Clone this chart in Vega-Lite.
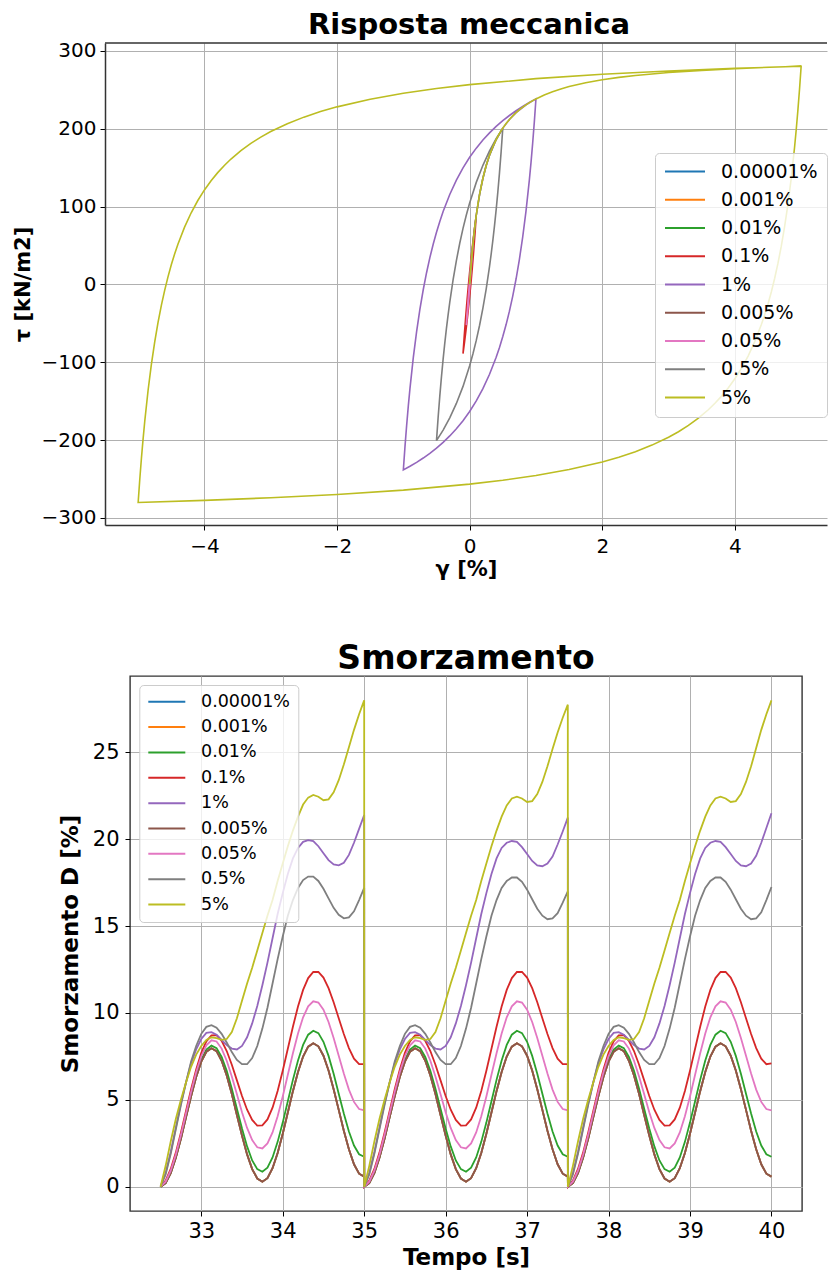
{
"$schema": "https://vega.github.io/schema/vega-lite/v6.json",
"background": "white",
"padding": {"left": 12, "top": 10, "right": 0, "bottom": 0},
"bounds": "flush",
"center": true,
"spacing": 151,
"resolve": {"scale": {"color": "independent"}},
"config": {
  "font": "DejaVu Sans",
  "axis": {"labelFont": "DejaVu Sans", "titleFont": "DejaVu Sans", "labelColor": "#000", "titleColor": "#000", "tickColor": "#000", "domainColor": "#333", "domainWidth": 1.5, "gridColor": "#b0b0b0", "gridWidth": 1, "titleFontWeight": "bold", "labelFlush": false, "labelOverlap": false},
  "legend": {"labelFont": "DejaVu Sans", "labelColor": "#000", "symbolType": "stroke", "fillColor": "rgba(255,255,255,0.8)", "strokeColor": "#cccccc", "cornerRadius": 4, "title": null, "orient": "none"},
  "title": {"font": "DejaVu Sans", "fontWeight": "bold", "color": "#000", "anchor": "middle"}
},
"datasets": {
  "names": [{"k":"A","s":"0.00001%"},{"k":"B","s":"0.001%"},{"k":"C","s":"0.01%"},{"k":"D","s":"0.1%"},{"k":"E","s":"1%"},{"k":"F","s":"0.005%"},{"k":"G","s":"0.05%"},{"k":"H","s":"0.5%"},{"k":"I","s":"5%"}],
  "loops": [
{"s":"0.00001%","g":0,"t":0},{"s":"0.00001%","g":0.00001,"t":0.0127},{"s":"0.00001%","g":-0.00001,"t":-0.0127},{"s":"0.00001%","g":0.00001,"t":0.0127},
{"s":"0.001%","g":0,"t":0},{"s":"0.001%","g":0.001,"t":1.27},{"s":"0.001%","g":-0.001,"t":-1.27},{"s":"0.001%","g":0.001,"t":1.27},
{"s":"0.01%","g":0,"t":0},{"s":"0.01%","g":0.005,"t":6.23},{"s":"0.01%","g":0.01,"t":12.21},{"s":"0.01%","g":0,"t":-0.25},{"s":"0.01%","g":-0.01,"t":-12.21},{"s":"0.01%","g":0,"t":0.25},{"s":"0.01%","g":0.01,"t":12.21},
{"s":"0.1%","g":0,"t":0},{"s":"0.1%","g":0.02,"t":23.4},{"s":"0.1%","g":0.04,"t":43.4},{"s":"0.1%","g":0.06,"t":60.6},{"s":"0.1%","g":0.08,"t":75.6},{"s":"0.1%","g":0.1,"t":88.8},
{"s":"0.1%","g":0.08,"t":64.4},{"s":"0.1%","g":0.06,"t":41.9},{"s":"0.1%","g":0.04,"t":21.2},{"s":"0.1%","g":0.02,"t":2.0},{"s":"0.1%","g":0,"t":-15.9},{"s":"0.1%","g":-0.02,"t":-32.5},{"s":"0.1%","g":-0.04,"t":-47.9},{"s":"0.1%","g":-0.06,"t":-62.4},{"s":"0.1%","g":-0.08,"t":-76.0},{"s":"0.1%","g":-0.1,"t":-88.8},
{"s":"0.1%","g":-0.08,"t":-64.4},{"s":"0.1%","g":-0.06,"t":-41.9},{"s":"0.1%","g":-0.04,"t":-21.2},{"s":"0.1%","g":-0.02,"t":-2.0},{"s":"0.1%","g":0,"t":15.9},{"s":"0.1%","g":0.02,"t":32.5},{"s":"0.1%","g":0.04,"t":47.9},{"s":"0.1%","g":0.06,"t":62.4},{"s":"0.1%","g":0.08,"t":76.0},{"s":"0.1%","g":0.1,"t":88.8},
{"s":"1%","g":0,"t":0},{"s":"1%","g":0.0125,"t":15.1},{"s":"1%","g":0.025,"t":28.7},{"s":"1%","g":0.05,"t":52.3},{"s":"1%","g":0.075,"t":72.1},{"s":"1%","g":0.1,"t":88.8},{"s":"1%","g":0.15,"t":115.7},{"s":"1%","g":0.2,"t":136.3},{"s":"1%","g":0.25,"t":152.6},{"s":"1%","g":0.3,"t":165.9},{"s":"1%","g":0.4,"t":186.0},{"s":"1%","g":0.5,"t":200.7},{"s":"1%","g":0.6,"t":211.8},{"s":"1%","g":0.7,"t":220.5},{"s":"1%","g":0.85,"t":230.6},{"s":"1%","g":1,"t":238.2},
{"s":"1%","g":0.975,"t":208.0},{"s":"1%","g":0.95,"t":180.8},{"s":"1%","g":0.925,"t":156.1},{"s":"1%","g":0.9,"t":133.6},{"s":"1%","g":0.85,"t":94.1},{"s":"1%","g":0.8,"t":60.6},{"s":"1%","g":0.75,"t":31.9},{"s":"1%","g":0.7,"t":6.9},{"s":"1%","g":0.65,"t":-15.0},{"s":"1%","g":0.6,"t":-34.4},{"s":"1%","g":0.55,"t":-51.6},{"s":"1%","g":0.5,"t":-67.0},{"s":"1%","g":0.45,"t":-80.9},{"s":"1%","g":0.4,"t":-93.5},{"s":"1%","g":0.3,"t":-115.4},{"s":"1%","g":0.2,"t":-133.9},{"s":"1%","g":0.1,"t":-149.6},{"s":"1%","g":0,"t":-163.2},{"s":"1%","g":-0.1,"t":-175.0},{"s":"1%","g":-0.2,"t":-185.4},{"s":"1%","g":-0.3,"t":-194.6},{"s":"1%","g":-0.4,"t":-202.9},{"s":"1%","g":-0.5,"t":-210.3},{"s":"1%","g":-0.6,"t":-216.9},{"s":"1%","g":-0.7,"t":-223.0},{"s":"1%","g":-0.8,"t":-228.5},{"s":"1%","g":-0.9,"t":-233.6},{"s":"1%","g":-1,"t":-238.2},
{"s":"1%","g":-0.975,"t":-208.0},{"s":"1%","g":-0.95,"t":-180.8},{"s":"1%","g":-0.925,"t":-156.1},{"s":"1%","g":-0.9,"t":-133.6},{"s":"1%","g":-0.85,"t":-94.1},{"s":"1%","g":-0.8,"t":-60.6},{"s":"1%","g":-0.75,"t":-31.9},{"s":"1%","g":-0.7,"t":-6.9},{"s":"1%","g":-0.65,"t":15.0},{"s":"1%","g":-0.6,"t":34.4},{"s":"1%","g":-0.55,"t":51.6},{"s":"1%","g":-0.5,"t":67.0},{"s":"1%","g":-0.45,"t":80.9},{"s":"1%","g":-0.4,"t":93.5},{"s":"1%","g":-0.3,"t":115.4},{"s":"1%","g":-0.2,"t":133.9},{"s":"1%","g":-0.1,"t":149.6},{"s":"1%","g":0,"t":163.2},{"s":"1%","g":0.1,"t":175.0},{"s":"1%","g":0.2,"t":185.4},{"s":"1%","g":0.3,"t":194.6},{"s":"1%","g":0.4,"t":202.9},{"s":"1%","g":0.5,"t":210.3},{"s":"1%","g":0.6,"t":216.9},{"s":"1%","g":0.7,"t":223.0},{"s":"1%","g":0.8,"t":228.5},{"s":"1%","g":0.9,"t":233.6},{"s":"1%","g":1,"t":238.2},
{"s":"0.005%","g":0,"t":0},{"s":"0.005%","g":0.0025,"t":3.15},{"s":"0.005%","g":0.005,"t":6.23},{"s":"0.005%","g":0,"t":-0.07},{"s":"0.005%","g":-0.005,"t":-6.23},{"s":"0.005%","g":0,"t":0.07},{"s":"0.005%","g":0.005,"t":6.23},
{"s":"0.05%","g":0,"t":0},{"s":"0.05%","g":0.0125,"t":15.1},{"s":"0.05%","g":0.025,"t":28.7},{"s":"0.05%","g":0.0375,"t":41.1},{"s":"0.05%","g":0.05,"t":52.3},{"s":"0.05%","g":0.025,"t":22.1},{"s":"0.05%","g":0,"t":-5.1},{"s":"0.05%","g":-0.025,"t":-29.8},{"s":"0.05%","g":-0.05,"t":-52.3},{"s":"0.05%","g":-0.025,"t":-22.1},{"s":"0.05%","g":0,"t":5.1},{"s":"0.05%","g":0.025,"t":29.8},{"s":"0.05%","g":0.05,"t":52.3},
{"s":"0.5%","g":0,"t":0},{"s":"0.5%","g":0.0125,"t":15.1},{"s":"0.5%","g":0.025,"t":28.7},{"s":"0.5%","g":0.05,"t":52.3},{"s":"0.5%","g":0.075,"t":72.1},{"s":"0.5%","g":0.1,"t":88.8},{"s":"0.5%","g":0.15,"t":115.7},{"s":"0.5%","g":0.2,"t":136.3},{"s":"0.5%","g":0.25,"t":152.6},{"s":"0.5%","g":0.3,"t":165.9},{"s":"0.5%","g":0.4,"t":186.0},{"s":"0.5%","g":0.5,"t":200.7},
{"s":"0.5%","g":0.475,"t":170.5},{"s":"0.5%","g":0.45,"t":143.2},{"s":"0.5%","g":0.425,"t":118.5},{"s":"0.5%","g":0.4,"t":96.0},{"s":"0.5%","g":0.375,"t":75.5},{"s":"0.5%","g":0.35,"t":56.6},{"s":"0.5%","g":0.325,"t":39.2},{"s":"0.5%","g":0.3,"t":23.1},{"s":"0.5%","g":0.25,"t":-5.7},{"s":"0.5%","g":0.2,"t":-30.6},{"s":"0.5%","g":0.15,"t":-52.5},{"s":"0.5%","g":0.1,"t":-71.9},{"s":"0.5%","g":0.05,"t":-89.1},{"s":"0.5%","g":0,"t":-104.5},{"s":"0.5%","g":-0.1,"t":-131.0},{"s":"0.5%","g":-0.2,"t":-152.9},{"s":"0.5%","g":-0.3,"t":-171.4},{"s":"0.5%","g":-0.4,"t":-187.1},{"s":"0.5%","g":-0.5,"t":-200.7},
{"s":"0.5%","g":-0.475,"t":-170.5},{"s":"0.5%","g":-0.45,"t":-143.2},{"s":"0.5%","g":-0.425,"t":-118.5},{"s":"0.5%","g":-0.4,"t":-96.0},{"s":"0.5%","g":-0.375,"t":-75.5},{"s":"0.5%","g":-0.35,"t":-56.6},{"s":"0.5%","g":-0.325,"t":-39.2},{"s":"0.5%","g":-0.3,"t":-23.1},{"s":"0.5%","g":-0.25,"t":5.7},{"s":"0.5%","g":-0.2,"t":30.6},{"s":"0.5%","g":-0.15,"t":52.5},{"s":"0.5%","g":-0.1,"t":71.9},{"s":"0.5%","g":-0.05,"t":89.1},{"s":"0.5%","g":0,"t":104.5},{"s":"0.5%","g":0.1,"t":131.0},{"s":"0.5%","g":0.2,"t":152.9},{"s":"0.5%","g":0.3,"t":171.4},{"s":"0.5%","g":0.4,"t":187.1},{"s":"0.5%","g":0.5,"t":200.7},
{"s":"5%","g":0,"t":0},{"s":"5%","g":0.0125,"t":15.1},{"s":"5%","g":0.025,"t":28.7},{"s":"5%","g":0.0375,"t":41.1},{"s":"5%","g":0.05,"t":52.3},{"s":"5%","g":0.075,"t":72.1},{"s":"5%","g":0.1,"t":88.8},{"s":"5%","g":0.125,"t":103.2},{"s":"5%","g":0.15,"t":115.7},{"s":"5%","g":0.175,"t":126.6},{"s":"5%","g":0.2,"t":136.3},{"s":"5%","g":0.225,"t":144.9},{"s":"5%","g":0.25,"t":152.6},{"s":"5%","g":0.275,"t":159.6},{"s":"5%","g":0.3,"t":165.9},{"s":"5%","g":0.35,"t":176.8},{"s":"5%","g":0.4,"t":186.0},{"s":"5%","g":0.45,"t":193.9},{"s":"5%","g":0.5,"t":200.7},{"s":"5%","g":0.55,"t":206.6},{"s":"5%","g":0.6,"t":211.8},{"s":"5%","g":0.65,"t":216.4},{"s":"5%","g":0.7,"t":220.5},{"s":"5%","g":0.775,"t":226.0},{"s":"5%","g":0.85,"t":230.6},{"s":"5%","g":0.925,"t":234.7},{"s":"5%","g":1,"t":238.2},{"s":"5%","g":1.125,"t":243.3},{"s":"5%","g":1.25,"t":247.5},{"s":"5%","g":1.375,"t":251.0},{"s":"5%","g":1.5,"t":254.1},{"s":"5%","g":1.75,"t":259.0},{"s":"5%","g":2,"t":262.8},{"s":"5%","g":2.25,"t":265.8},{"s":"5%","g":2.5,"t":268.3},{"s":"5%","g":3,"t":272.1},{"s":"5%","g":3.5,"t":274.9},{"s":"5%","g":4,"t":277.1},{"s":"5%","g":4.5,"t":278.8},{"s":"5%","g":5,"t":280.1},
{"s":"5%","g":4.975,"t":249.9},{"s":"5%","g":4.95,"t":222.7},{"s":"5%","g":4.925,"t":198.0},{"s":"5%","g":4.9,"t":175.5},{"s":"5%","g":4.85,"t":136.0},{"s":"5%","g":4.8,"t":102.5},{"s":"5%","g":4.75,"t":73.8},{"s":"5%","g":4.7,"t":48.8},{"s":"5%","g":4.65,"t":26.9},{"s":"5%","g":4.6,"t":7.6},{"s":"5%","g":4.55,"t":-9.7},{"s":"5%","g":4.5,"t":-25.1},{"s":"5%","g":4.45,"t":-39.0},{"s":"5%","g":4.4,"t":-51.6},{"s":"5%","g":4.3,"t":-73.5},{"s":"5%","g":4.2,"t":-92.0},{"s":"5%","g":4.1,"t":-107.7},{"s":"5%","g":4.0,"t":-121.3},{"s":"5%","g":3.9,"t":-133.1},{"s":"5%","g":3.8,"t":-143.5},{"s":"5%","g":3.7,"t":-152.7},{"s":"5%","g":3.6,"t":-161.0},{"s":"5%","g":3.45,"t":-171.8},{"s":"5%","g":3.3,"t":-181.1},{"s":"5%","g":3.15,"t":-189.2},{"s":"5%","g":3.0,"t":-196.3},{"s":"5%","g":2.75,"t":-206.4},{"s":"5%","g":2.5,"t":-214.8},{"s":"5%","g":2.25,"t":-221.9},{"s":"5%","g":2.0,"t":-228.0},{"s":"5%","g":1.5,"t":-237.8},{"s":"5%","g":1.0,"t":-245.5},{"s":"5%","g":0.5,"t":-251.6},{"s":"5%","g":0,"t":-256.5},{"s":"5%","g":-1,"t":-264.2},{"s":"5%","g":-2,"t":-269.8},{"s":"5%","g":-3,"t":-274.0},{"s":"5%","g":-4,"t":-277.4},{"s":"5%","g":-5,"t":-280.1},
{"s":"5%","g":-4.975,"t":-249.9},{"s":"5%","g":-4.95,"t":-222.7},{"s":"5%","g":-4.925,"t":-198.0},{"s":"5%","g":-4.9,"t":-175.5},{"s":"5%","g":-4.85,"t":-136.0},{"s":"5%","g":-4.8,"t":-102.5},{"s":"5%","g":-4.75,"t":-73.8},{"s":"5%","g":-4.7,"t":-48.8},{"s":"5%","g":-4.65,"t":-26.9},{"s":"5%","g":-4.6,"t":-7.6},{"s":"5%","g":-4.55,"t":9.7},{"s":"5%","g":-4.5,"t":25.1},{"s":"5%","g":-4.45,"t":39.0},{"s":"5%","g":-4.4,"t":51.6},{"s":"5%","g":-4.3,"t":73.5},{"s":"5%","g":-4.2,"t":92.0},{"s":"5%","g":-4.1,"t":107.7},{"s":"5%","g":-4.0,"t":121.3},{"s":"5%","g":-3.9,"t":133.1},{"s":"5%","g":-3.8,"t":143.5},{"s":"5%","g":-3.7,"t":152.7},{"s":"5%","g":-3.6,"t":161.0},{"s":"5%","g":-3.45,"t":171.8},{"s":"5%","g":-3.3,"t":181.1},{"s":"5%","g":-3.15,"t":189.2},{"s":"5%","g":-3.0,"t":196.3},{"s":"5%","g":-2.75,"t":206.4},{"s":"5%","g":-2.5,"t":214.8},{"s":"5%","g":-2.25,"t":221.9},{"s":"5%","g":-2.0,"t":228.0},{"s":"5%","g":-1.5,"t":237.8},{"s":"5%","g":-1,"t":245.5},{"s":"5%","g":-0.5,"t":251.6},{"s":"5%","g":0,"t":256.5},{"s":"5%","g":1,"t":264.2},{"s":"5%","g":2,"t":269.8},{"s":"5%","g":3,"t":274.0},{"s":"5%","g":4,"t":277.4},{"s":"5%","g":5,"t":280.1}
  ],
  "damp": [
{"t":32.5,"A":0,"B":0,"C":0,"D":0,"E":0,"F":0,"G":0,"H":0,"I":0},
{"t":32.5625,"A":0.21,"B":0.21,"C":0.23,"D":0.35,"E":0.8,"F":0.21,"G":0.29,"H":0.7,"I":1.2},
{"t":32.625,"A":0.78,"B":0.78,"C":0.82,"D":1.02,"E":2.0,"F":0.78,"G":0.92,"H":1.9,"I":2.6},
{"t":32.6875,"A":1.66,"B":1.66,"C":1.71,"D":1.96,"E":3.4,"F":1.66,"G":1.84,"H":3.3,"I":3.9},
{"t":32.75,"A":2.76,"B":2.76,"C":2.83,"D":3.11,"E":4.8,"F":2.76,"G":2.97,"H":4.7,"I":5.0},
{"t":32.8125,"A":3.99,"B":3.99,"C":4.06,"D":4.36,"E":6.0,"F":3.99,"G":4.22,"H":6.0,"I":6.0},
{"t":32.875,"A":5.21,"B":5.21,"C":5.29,"D":5.61,"E":7.1,"F":5.21,"G":5.46,"H":7.2,"I":6.9},
{"t":32.9375,"A":6.32,"B":6.32,"C":6.41,"D":6.75,"E":7.9,"F":6.32,"G":6.59,"H":8.1,"I":7.6},
{"t":33.0,"A":7.2,"B":7.2,"C":7.3,"D":7.7,"E":8.5,"F":7.2,"G":7.51,"H":8.8,"I":8.1},
{"t":33.0625,"A":7.77,"B":7.77,"C":7.89,"D":8.37,"E":8.85,"F":7.77,"G":8.14,"H":9.2,"I":8.45},
{"t":33.125,"A":7.97,"B":7.97,"C":8.12,"D":8.71,"E":8.9,"F":7.97,"G":8.43,"H":9.3,"I":8.6},
{"t":33.1875,"A":7.8,"B":7.8,"C":7.98,"D":8.72,"E":8.75,"F":7.8,"G":8.36,"H":9.15,"I":8.55},
{"t":33.25,"A":7.25,"B":7.25,"C":7.47,"D":8.4,"E":8.45,"F":7.25,"G":7.95,"H":8.8,"I":8.45},
{"t":33.3125,"A":6.4,"B":6.4,"C":6.67,"D":7.81,"E":8.15,"F":6.4,"G":7.25,"H":8.3,"I":8.5},
{"t":33.375,"A":5.33,"B":5.33,"C":5.64,"D":7.02,"E":7.95,"F":5.33,"G":6.34,"H":7.75,"I":8.9},
{"t":33.4375,"A":4.13,"B":4.13,"C":4.49,"D":6.12,"E":7.9,"F":4.13,"G":5.32,"H":7.3,"I":9.7},
{"t":33.5,"A":2.94,"B":2.94,"C":3.35,"D":5.22,"E":8.1,"F":2.94,"G":4.29,"H":7.05,"I":10.7},
{"t":33.5625,"A":1.86,"B":1.86,"C":2.32,"D":4.43,"E":8.6,"F":1.86,"G":3.38,"H":7.05,"I":11.7},
{"t":33.625,"A":1.01,"B":1.01,"C":1.51,"D":3.84,"E":9.4,"F":1.01,"G":2.68,"H":7.4,"I":12.6},
{"t":33.6875,"A":0.47,"B":0.47,"C":1.01,"D":3.52,"E":10.4,"F":0.47,"G":2.27,"H":8.1,"I":13.6},
{"t":33.75,"A":0.29,"B":0.29,"C":0.86,"D":3.53,"E":11.6,"F":0.29,"G":2.2,"H":9.1,"I":14.6},
{"t":33.8125,"A":0.49,"B":0.49,"C":1.09,"D":3.87,"E":12.9,"F":0.49,"G":2.49,"H":10.3,"I":15.6},
{"t":33.875,"A":1.06,"B":1.06,"C":1.68,"D":4.55,"E":14.3,"F":1.06,"G":3.12,"H":11.7,"I":16.5},
{"t":33.9375,"A":1.94,"B":1.94,"C":2.58,"D":5.51,"E":15.7,"F":1.94,"G":4.05,"H":13.1,"I":17.6},
{"t":34.0,"A":3.05,"B":3.05,"C":3.69,"D":6.67,"E":16.9,"F":3.05,"G":5.19,"H":14.4,"I":18.6},
{"t":34.0625,"A":4.27,"B":4.27,"C":4.92,"D":7.94,"E":18.0,"F":4.27,"G":6.44,"H":15.6,"I":19.6},
{"t":34.125,"A":5.5,"B":5.5,"C":6.15,"D":9.21,"E":18.9,"F":5.5,"G":7.68,"H":16.5,"I":20.5},
{"t":34.1875,"A":6.6,"B":6.6,"C":7.27,"D":10.37,"E":19.5,"F":6.6,"G":8.82,"H":17.2,"I":21.3},
{"t":34.25,"A":7.49,"B":7.49,"C":8.16,"D":11.33,"E":19.85,"F":7.49,"G":9.75,"H":17.65,"I":22.0},
{"t":34.3125,"A":8.06,"B":8.06,"C":8.75,"D":12.01,"E":19.95,"F":8.06,"G":10.38,"H":17.85,"I":22.4},
{"t":34.375,"A":8.26,"B":8.26,"C":8.98,"D":12.36,"E":19.9,"F":8.26,"G":10.67,"H":17.85,"I":22.55},
{"t":34.4375,"A":8.08,"B":8.08,"C":8.84,"D":12.36,"E":19.6,"F":8.08,"G":10.6,"H":17.6,"I":22.45},
{"t":34.5,"A":7.54,"B":7.54,"C":8.34,"D":12.04,"E":19.2,"F":7.54,"G":10.19,"H":17.15,"I":22.25},
{"t":34.5625,"A":6.69,"B":6.69,"C":7.53,"D":11.43,"E":18.8,"F":6.69,"G":9.48,"H":16.6,"I":22.3},
{"t":34.625,"A":5.61,"B":5.61,"C":6.5,"D":10.62,"E":18.55,"F":5.61,"G":8.56,"H":16.05,"I":22.7},
{"t":34.6875,"A":4.42,"B":4.42,"C":5.35,"D":9.7,"E":18.5,"F":4.42,"G":7.54,"H":15.65,"I":23.4},
{"t":34.75,"A":3.22,"B":3.22,"C":4.21,"D":8.79,"E":18.65,"F":3.22,"G":6.51,"H":15.45,"I":24.3},
{"t":34.8125,"A":2.15,"B":2.15,"C":3.18,"D":7.98,"E":19.1,"F":2.15,"G":5.59,"H":15.5,"I":25.3},
{"t":34.875,"A":1.29,"B":1.29,"C":2.37,"D":7.37,"E":19.8,"F":1.29,"G":4.88,"H":15.85,"I":26.3},
{"t":34.9375,"A":0.75,"B":0.75,"C":1.87,"D":7.05,"E":20.6,"F":0.75,"G":4.47,"H":16.5,"I":27.2},
{"t":35.0,"A":0.58,"B":0.58,"C":1.72,"D":7.05,"E":21.4,"F":0.58,"G":4.4,"H":17.2,"I":28.0},
{"t":35.001,"A":0,"B":0,"C":0,"D":0,"E":0,"F":0,"G":0,"H":0,"I":0},
{"t":35.0625,"A":0.21,"B":0.21,"C":0.23,"D":0.35,"E":0.8,"F":0.21,"G":0.29,"H":0.7,"I":1.2},
{"t":35.125,"A":0.78,"B":0.78,"C":0.82,"D":1.02,"E":2.0,"F":0.78,"G":0.92,"H":1.9,"I":2.6},
{"t":35.1875,"A":1.66,"B":1.66,"C":1.71,"D":1.96,"E":3.4,"F":1.66,"G":1.84,"H":3.3,"I":3.9},
{"t":35.25,"A":2.76,"B":2.76,"C":2.83,"D":3.11,"E":4.8,"F":2.76,"G":2.97,"H":4.7,"I":5.0},
{"t":35.3125,"A":3.99,"B":3.99,"C":4.06,"D":4.36,"E":6.0,"F":3.99,"G":4.22,"H":6.0,"I":6.0},
{"t":35.375,"A":5.21,"B":5.21,"C":5.29,"D":5.61,"E":7.1,"F":5.21,"G":5.46,"H":7.2,"I":6.9},
{"t":35.4375,"A":6.32,"B":6.32,"C":6.41,"D":6.75,"E":7.9,"F":6.32,"G":6.59,"H":8.1,"I":7.6},
{"t":35.5,"A":7.2,"B":7.2,"C":7.3,"D":7.7,"E":8.5,"F":7.2,"G":7.51,"H":8.8,"I":8.1},
{"t":35.5625,"A":7.77,"B":7.77,"C":7.89,"D":8.37,"E":8.85,"F":7.77,"G":8.14,"H":9.2,"I":8.45},
{"t":35.625,"A":7.97,"B":7.97,"C":8.12,"D":8.71,"E":8.9,"F":7.97,"G":8.43,"H":9.3,"I":8.6},
{"t":35.6875,"A":7.8,"B":7.8,"C":7.98,"D":8.72,"E":8.75,"F":7.8,"G":8.36,"H":9.15,"I":8.55},
{"t":35.75,"A":7.25,"B":7.25,"C":7.47,"D":8.4,"E":8.45,"F":7.25,"G":7.95,"H":8.8,"I":8.45},
{"t":35.8125,"A":6.4,"B":6.4,"C":6.67,"D":7.81,"E":8.15,"F":6.4,"G":7.25,"H":8.3,"I":8.5},
{"t":35.875,"A":5.33,"B":5.33,"C":5.64,"D":7.02,"E":7.95,"F":5.33,"G":6.34,"H":7.75,"I":8.9},
{"t":35.9375,"A":4.13,"B":4.13,"C":4.49,"D":6.12,"E":7.9,"F":4.13,"G":5.32,"H":7.3,"I":9.7},
{"t":36.0,"A":2.94,"B":2.94,"C":3.35,"D":5.22,"E":8.1,"F":2.94,"G":4.29,"H":7.05,"I":10.7},
{"t":36.0625,"A":1.86,"B":1.86,"C":2.32,"D":4.43,"E":8.6,"F":1.86,"G":3.38,"H":7.05,"I":11.7},
{"t":36.125,"A":1.01,"B":1.01,"C":1.51,"D":3.84,"E":9.4,"F":1.01,"G":2.68,"H":7.4,"I":12.6},
{"t":36.1875,"A":0.47,"B":0.47,"C":1.01,"D":3.52,"E":10.4,"F":0.47,"G":2.27,"H":8.1,"I":13.6},
{"t":36.25,"A":0.29,"B":0.29,"C":0.86,"D":3.53,"E":11.6,"F":0.29,"G":2.2,"H":9.1,"I":14.6},
{"t":36.3125,"A":0.49,"B":0.49,"C":1.09,"D":3.87,"E":12.9,"F":0.49,"G":2.49,"H":10.3,"I":15.6},
{"t":36.375,"A":1.06,"B":1.06,"C":1.68,"D":4.55,"E":14.3,"F":1.06,"G":3.12,"H":11.7,"I":16.5},
{"t":36.4375,"A":1.94,"B":1.94,"C":2.58,"D":5.51,"E":15.7,"F":1.94,"G":4.05,"H":13.1,"I":17.6},
{"t":36.5,"A":3.05,"B":3.05,"C":3.69,"D":6.67,"E":16.9,"F":3.05,"G":5.19,"H":14.4,"I":18.6},
{"t":36.5625,"A":4.27,"B":4.27,"C":4.92,"D":7.94,"E":18.0,"F":4.27,"G":6.44,"H":15.6,"I":19.6},
{"t":36.625,"A":5.5,"B":5.5,"C":6.15,"D":9.21,"E":18.9,"F":5.5,"G":7.68,"H":16.5,"I":20.5},
{"t":36.6875,"A":6.6,"B":6.6,"C":7.27,"D":10.37,"E":19.5,"F":6.6,"G":8.82,"H":17.2,"I":21.3},
{"t":36.75,"A":7.49,"B":7.49,"C":8.16,"D":11.33,"E":19.8,"F":7.49,"G":9.75,"H":17.6,"I":21.95},
{"t":36.8125,"A":8.06,"B":8.06,"C":8.75,"D":12.01,"E":19.9,"F":8.06,"G":10.38,"H":17.8,"I":22.35},
{"t":36.875,"A":8.26,"B":8.26,"C":8.98,"D":12.36,"E":19.85,"F":8.26,"G":10.67,"H":17.8,"I":22.45},
{"t":36.9375,"A":8.08,"B":8.08,"C":8.84,"D":12.36,"E":19.55,"F":8.08,"G":10.6,"H":17.55,"I":22.35},
{"t":37.0,"A":7.54,"B":7.54,"C":8.34,"D":12.04,"E":19.15,"F":7.54,"G":10.19,"H":17.1,"I":22.15},
{"t":37.0625,"A":6.69,"B":6.69,"C":7.53,"D":11.43,"E":18.75,"F":6.69,"G":9.48,"H":16.55,"I":22.2},
{"t":37.125,"A":5.61,"B":5.61,"C":6.5,"D":10.62,"E":18.5,"F":5.61,"G":8.56,"H":16.0,"I":22.6},
{"t":37.1875,"A":4.42,"B":4.42,"C":5.35,"D":9.7,"E":18.45,"F":4.42,"G":7.54,"H":15.6,"I":23.3},
{"t":37.25,"A":3.22,"B":3.22,"C":4.21,"D":8.79,"E":18.6,"F":3.22,"G":6.51,"H":15.4,"I":24.2},
{"t":37.3125,"A":2.15,"B":2.15,"C":3.18,"D":7.98,"E":19.0,"F":2.15,"G":5.59,"H":15.45,"I":25.2},
{"t":37.375,"A":1.29,"B":1.29,"C":2.37,"D":7.37,"E":19.7,"F":1.29,"G":4.88,"H":15.75,"I":26.15},
{"t":37.4375,"A":0.75,"B":0.75,"C":1.87,"D":7.05,"E":20.45,"F":0.75,"G":4.47,"H":16.35,"I":27.0},
{"t":37.5,"A":0.58,"B":0.58,"C":1.72,"D":7.05,"E":21.25,"F":0.58,"G":4.4,"H":17.0,"I":27.75},
{"t":37.501,"A":0,"B":0,"C":0,"D":0,"E":0,"F":0,"G":0,"H":0,"I":0},
{"t":37.5625,"A":0.21,"B":0.21,"C":0.23,"D":0.35,"E":0.8,"F":0.21,"G":0.29,"H":0.7,"I":1.2},
{"t":37.625,"A":0.78,"B":0.78,"C":0.82,"D":1.02,"E":2.0,"F":0.78,"G":0.92,"H":1.9,"I":2.6},
{"t":37.6875,"A":1.66,"B":1.66,"C":1.71,"D":1.96,"E":3.4,"F":1.66,"G":1.84,"H":3.3,"I":3.9},
{"t":37.75,"A":2.76,"B":2.76,"C":2.83,"D":3.11,"E":4.8,"F":2.76,"G":2.97,"H":4.7,"I":5.0},
{"t":37.8125,"A":3.99,"B":3.99,"C":4.06,"D":4.36,"E":6.0,"F":3.99,"G":4.22,"H":6.0,"I":6.0},
{"t":37.875,"A":5.21,"B":5.21,"C":5.29,"D":5.61,"E":7.1,"F":5.21,"G":5.46,"H":7.2,"I":6.9},
{"t":37.9375,"A":6.32,"B":6.32,"C":6.41,"D":6.75,"E":7.9,"F":6.32,"G":6.59,"H":8.1,"I":7.6},
{"t":38.0,"A":7.2,"B":7.2,"C":7.3,"D":7.7,"E":8.5,"F":7.2,"G":7.51,"H":8.8,"I":8.1},
{"t":38.0625,"A":7.77,"B":7.77,"C":7.89,"D":8.37,"E":8.85,"F":7.77,"G":8.14,"H":9.2,"I":8.45},
{"t":38.125,"A":7.97,"B":7.97,"C":8.12,"D":8.71,"E":8.9,"F":7.97,"G":8.43,"H":9.3,"I":8.6},
{"t":38.1875,"A":7.8,"B":7.8,"C":7.98,"D":8.72,"E":8.75,"F":7.8,"G":8.36,"H":9.15,"I":8.55},
{"t":38.25,"A":7.25,"B":7.25,"C":7.47,"D":8.4,"E":8.45,"F":7.25,"G":7.95,"H":8.8,"I":8.45},
{"t":38.3125,"A":6.4,"B":6.4,"C":6.67,"D":7.81,"E":8.15,"F":6.4,"G":7.25,"H":8.3,"I":8.5},
{"t":38.375,"A":5.33,"B":5.33,"C":5.64,"D":7.02,"E":7.95,"F":5.33,"G":6.34,"H":7.75,"I":8.9},
{"t":38.4375,"A":4.13,"B":4.13,"C":4.49,"D":6.12,"E":7.9,"F":4.13,"G":5.32,"H":7.3,"I":9.7},
{"t":38.5,"A":2.94,"B":2.94,"C":3.35,"D":5.22,"E":8.1,"F":2.94,"G":4.29,"H":7.05,"I":10.7},
{"t":38.5625,"A":1.86,"B":1.86,"C":2.32,"D":4.43,"E":8.6,"F":1.86,"G":3.38,"H":7.05,"I":11.7},
{"t":38.625,"A":1.01,"B":1.01,"C":1.51,"D":3.84,"E":9.4,"F":1.01,"G":2.68,"H":7.4,"I":12.6},
{"t":38.6875,"A":0.47,"B":0.47,"C":1.01,"D":3.52,"E":10.4,"F":0.47,"G":2.27,"H":8.1,"I":13.6},
{"t":38.75,"A":0.29,"B":0.29,"C":0.86,"D":3.53,"E":11.6,"F":0.29,"G":2.2,"H":9.1,"I":14.6},
{"t":38.8125,"A":0.49,"B":0.49,"C":1.09,"D":3.87,"E":12.9,"F":0.49,"G":2.49,"H":10.3,"I":15.6},
{"t":38.875,"A":1.06,"B":1.06,"C":1.68,"D":4.55,"E":14.3,"F":1.06,"G":3.12,"H":11.7,"I":16.5},
{"t":38.9375,"A":1.94,"B":1.94,"C":2.58,"D":5.51,"E":15.7,"F":1.94,"G":4.05,"H":13.1,"I":17.6},
{"t":39.0,"A":3.05,"B":3.05,"C":3.69,"D":6.67,"E":16.9,"F":3.05,"G":5.19,"H":14.4,"I":18.6},
{"t":39.0625,"A":4.27,"B":4.27,"C":4.92,"D":7.94,"E":18.0,"F":4.27,"G":6.44,"H":15.6,"I":19.6},
{"t":39.125,"A":5.5,"B":5.5,"C":6.15,"D":9.21,"E":18.9,"F":5.5,"G":7.68,"H":16.5,"I":20.5},
{"t":39.1875,"A":6.6,"B":6.6,"C":7.27,"D":10.37,"E":19.5,"F":6.6,"G":8.82,"H":17.2,"I":21.3},
{"t":39.25,"A":7.49,"B":7.49,"C":8.16,"D":11.33,"E":19.8,"F":7.49,"G":9.75,"H":17.6,"I":21.95},
{"t":39.3125,"A":8.06,"B":8.06,"C":8.75,"D":12.01,"E":19.9,"F":8.06,"G":10.38,"H":17.8,"I":22.35},
{"t":39.375,"A":8.26,"B":8.26,"C":8.98,"D":12.36,"E":19.85,"F":8.26,"G":10.67,"H":17.8,"I":22.45},
{"t":39.4375,"A":8.08,"B":8.08,"C":8.84,"D":12.36,"E":19.55,"F":8.08,"G":10.6,"H":17.55,"I":22.35},
{"t":39.5,"A":7.54,"B":7.54,"C":8.34,"D":12.04,"E":19.15,"F":7.54,"G":10.19,"H":17.1,"I":22.15},
{"t":39.5625,"A":6.69,"B":6.69,"C":7.53,"D":11.43,"E":18.75,"F":6.69,"G":9.48,"H":16.55,"I":22.2},
{"t":39.625,"A":5.61,"B":5.61,"C":6.5,"D":10.62,"E":18.5,"F":5.61,"G":8.56,"H":16.0,"I":22.6},
{"t":39.6875,"A":4.42,"B":4.42,"C":5.35,"D":9.7,"E":18.45,"F":4.42,"G":7.54,"H":15.6,"I":23.3},
{"t":39.75,"A":3.22,"B":3.22,"C":4.21,"D":8.79,"E":18.6,"F":3.22,"G":6.51,"H":15.4,"I":24.2},
{"t":39.8125,"A":2.15,"B":2.15,"C":3.18,"D":7.98,"E":19.05,"F":2.15,"G":5.59,"H":15.45,"I":25.25},
{"t":39.875,"A":1.29,"B":1.29,"C":2.37,"D":7.37,"E":19.8,"F":1.29,"G":4.88,"H":15.8,"I":26.3},
{"t":39.9375,"A":0.75,"B":0.75,"C":1.87,"D":7.05,"E":20.65,"F":0.75,"G":4.47,"H":16.5,"I":27.2},
{"t":40.0,"A":0.58,"B":0.58,"C":1.72,"D":7.1,"E":21.5,"F":0.58,"G":4.4,"H":17.25,"I":28.0}
  ]
},
"vconcat": [
  {
    "width": 722,
    "height": 482,
    "title": {"text": "Risposta meccanica", "fontSize": 29, "offset": -28, "baseline": "bottom", "dx": 3},
    "view": {"stroke": null},
    "layer": [
      {
        "data": {"name": "loops"},
        "mark": {"type": "line", "strokeWidth": 1.6},
        "encoding": {
          "x": {"field": "g", "type": "quantitative", "scale": {"domain": [-5.5, 5.39], "nice": false, "zero": false},
                "axis": {"values": [-4, -2, 0, 2, 4], "title": "γ [%]", "labelFontSize": 20, "titleFontSize": 21, "tickSize": 5, "labelPadding": 6, "titlePadding": 2, "grid": true, "domain": true}},
          "y": {"field": "t", "type": "quantitative", "scale": {"domain": [-309, 310], "nice": false, "zero": false},
                "axis": {"values": [-300, -200, -100, 0, 100, 200, 300], "title": "τ [kN/m2]", "labelFontSize": 20, "titleFontSize": 21, "tickSize": 5, "labelPadding": 4, "titlePadding": 8, "grid": true, "domain": true}},
          "color": {"field": "s", "type": "nominal",
                    "scale": {"domain": ["0.00001%", "0.001%", "0.01%", "0.1%", "1%", "0.005%", "0.05%", "0.5%", "5%"],
                              "range": ["#1f77b4", "#ff7f0e", "#2ca02c", "#d62728", "#9467bd", "#8c564b", "#e377c2", "#7f7f7f", "#bcbd22"]},
                    "legend": {"orient": "none", "legendX": 550, "legendY": 110, "symbolSize": 1600, "symbolStrokeWidth": 2, "labelFontSize": 19, "labelOffset": 15, "clipHeight": 19, "rowPadding": 8.25, "padding": 9}},
          "order": {"value": null}
        }
      },
      {
        "data": {"values": [{}]},
        "mark": {"type": "rule", "color": "#333", "strokeWidth": 1.5},
        "encoding": {"y": {"datum": 310}}
      }
    ]
  },
  {
    "width": 672,
    "height": 535,
    "title": {"text": "Smorzamento", "fontSize": 33, "offset": -33, "baseline": "bottom"},
    "view": {"stroke": "#333", "strokeWidth": 1.4},
    "data": {"name": "damp"},
    "transform": [
      {"fold": ["A", "B", "C", "D", "E", "F", "G", "H", "I"], "as": ["k", "v"]},
      {"lookup": "k", "from": {"data": {"name": "names"}, "key": "k", "fields": ["s"]}}
    ],
    "mark": {"type": "line", "strokeWidth": 1.8},
    "encoding": {
      "x": {"field": "t", "type": "quantitative", "scale": {"domain": [32.125, 40.375], "nice": false, "zero": false},
            "axis": {"values": [33, 34, 35, 36, 37, 38, 39, 40], "title": "Tempo [s]", "labelFontSize": 21, "titleFontSize": 23, "tickSize": 5, "labelPadding": 4, "titlePadding": 5, "grid": true, "domain": false}},
      "y": {"field": "v", "type": "quantitative", "scale": {"domain": [-1.4, 29.4], "nice": false, "zero": false},
            "axis": {"values": [0, 5, 10, 15, 20, 25], "title": "Smorzamento D [%]", "labelFontSize": 21, "titleFontSize": 23, "tickSize": 5, "labelPadding": 6, "titlePadding": 10, "grid": true, "domain": false}},
      "color": {"field": "s", "type": "nominal",
                "scale": {"domain": ["0.00001%", "0.001%", "0.01%", "0.1%", "1%", "0.005%", "0.05%", "0.5%", "5%"],
                          "range": ["#1f77b4", "#ff7f0e", "#2ca02c", "#d62728", "#9467bd", "#8c564b", "#e377c2", "#7f7f7f", "#bcbd22"]},
                "legend": {"orient": "none", "legendX": 9.3, "legendY": 9, "symbolSize": 1369, "symbolStrokeWidth": 2, "labelFontSize": 17.5, "labelOffset": 14.7, "clipHeight": 17.5, "rowPadding": 6.35, "padding": 8}},
      "order": {"value": null}
    }
  }
]
}
